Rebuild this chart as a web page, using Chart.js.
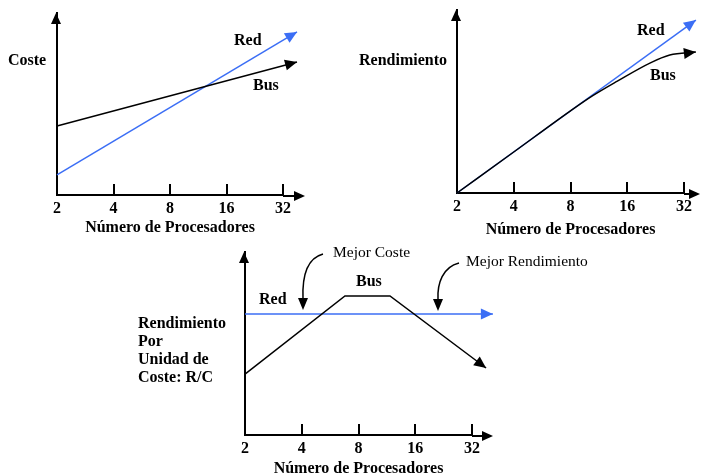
<!DOCTYPE html>
<html>
<head>
<meta charset="utf-8">
<script src="https://cdn.jsdelivr.net/npm/chart.js@4.4.1/dist/chart.umd.min.js"></script>
<style>
  html, body { margin: 0; background: #fff; overflow: hidden; }
  #wrap { position: relative; width: 701px; height: 475px; overflow: hidden; }
  #wrap canvas { position: absolute; left: 0; top: 0; }
</style>
</head>
<body>
<div id="wrap">
  <canvas id="costChart" width="701" height="500"></canvas>
  <canvas id="perfChart" width="701" height="500"></canvas>
  <canvas id="ratioChart" width="701" height="500"></canvas>
</div>
<script>
// processor counts shown on every x axis
const procTicks = [2, 4, 8, 16, 32];

// Coste
const costX = [2, 38];
const costBus = [37.9, 73.1];
const costRed = [11, 89.6];

// Rendimiento
const perfRedX = [2, 37];
const perfRed = [0, 94.5];
const perfBusX = [2, 4, 8, 10.5, 14.1, 21.1, 26.9, 37];
const perfBus = [0, 22.4, 44.9, 53.2, 61, 71, 75.4, 77];

// Rendimiento / Coste
const ratioRedX = [2, 41.3];
const ratioRed = [66.1, 66.1];
const ratioBusX = [2, 6.78, 11.75, 38];
const ratioBus = [33.3, 76, 76, 36.6];

const BLUE = '#3b6ef5';
const SERIF = '"Liberation Serif", "Times New Roman", serif';

const pts = (xs, ys) => xs.map((x, i) => ({ x: x, y: ys[i] }));

function head(ctx, x, y, ang, color, len, hw) {
  ctx.save();
  ctx.translate(x, y);
  ctx.rotate(ang);
  ctx.fillStyle = color;
  ctx.beginPath();
  ctx.moveTo(0, 0);
  ctx.lineTo(-len, -hw);
  ctx.lineTo(-len, hw);
  ctx.closePath();
  ctx.fill();
  ctx.restore();
}

const decorPlugin = {
  id: 'decor',
  afterDraw(chart, args, opts) {
    const ctx = chart.ctx;
    const { left, top, right, bottom } = chart.chartArea;
    const xs = chart.scales.x;
    ctx.save();
    ctx.strokeStyle = '#000';
    ctx.lineWidth = 2;

    // little tick marks standing on the axis
    xs.ticks.forEach((t, i) => {
      if (i === 0) return;
      const px = Math.round(xs.getPixelForValue(t.value));
      ctx.beginPath();
      ctx.moveTo(px, bottom);
      ctx.lineTo(px, bottom - 11);
      ctx.stroke();
    });

    // axis arrows
    const tipX = right + opts.extend;
    ctx.beginPath();
    ctx.moveTo(right, bottom + 1);
    ctx.lineTo(tipX - 6, bottom + 1);
    ctx.stroke();
    head(ctx, tipX, bottom + 1, 0, '#000', 11, 5);
    head(ctx, left - 1, top, -Math.PI / 2, '#000', 11, 5);

    // arrow at the end of each series
    chart.data.datasets.forEach((ds, i) => {
      const el = chart.getDatasetMeta(i).data;
      const b = el[el.length - 1];
      let a = el[el.length - 2];
      if (b.cp1x !== undefined && (Math.abs(b.cp1x - b.x) > 0.5 || Math.abs(b.cp1y - b.y) > 0.5)) {
        a = { x: b.cp1x, y: b.cp1y };
      }
      head(ctx, b.x, b.y, Math.atan2(b.y - a.y, b.x - a.x), ds.borderColor, 12, 5.5);
    });

    // curved pointers
    (opts.pointers || []).forEach(p => {
      ctx.lineWidth = 1.5;
      ctx.beginPath();
      ctx.moveTo(p[0], p[1]);
      ctx.bezierCurveTo(p[2], p[3], p[4], p[5], p[6], p[7] - 11);
      ctx.stroke();
      head(ctx, p[6], p[7], Math.PI / 2, '#000', 12, 5);
    });

    // labels
    ctx.fillStyle = '#000';
    ctx.textBaseline = 'middle';
    ctx.textAlign = 'left';
    (opts.notes || []).forEach(n => {
      ctx.font = (n[3] === false ? '15.5px ' : 'bold 16px ') + SERIF;
      ctx.fillText(n[0], n[1], n[2]);
    });
    ctx.restore();
  }
};

function makeChart(id, area, datasets, decor) {
  return new Chart(document.getElementById(id), {
    type: 'line',
    data: { datasets: datasets },
    plugins: [decorPlugin],
    options: {
      responsive: false,
      animation: false,
      events: [],
      layout: {
        padding: {
          left: area.left,
          top: area.top,
          right: 701 - area.right,
          bottom: 500 - area.bottom - area.xh
        }
      },
      plugins: {
        legend: { display: false },
        tooltip: { enabled: false },
        decor: decor
      },
      elements: { point: { radius: 0 } },
      scales: {
        x: {
          type: 'logarithmic',
          min: 2,
          max: 32,
          grid: { display: false, drawTicks: false },
          border: { display: true, color: '#000', width: 2 },
          afterBuildTicks: s => { s.ticks = procTicks.map(v => ({ value: v })); },
          afterFit: s => { s.height = area.xh; },
          ticks: {
            autoSkip: false,
            maxRotation: 0,
            padding: 4,
            color: '#000',
            font: { family: SERIF, size: 16, weight: 'bold' },
            callback: v => String(v)
          },
          title: {
            display: true,
            text: 'Número de Procesadores',
            color: '#000',
            padding: 0,
            font: { family: SERIF, size: 16, weight: 'bold', lineHeight: 1.125 }
          }
        },
        y: {
          min: 0,
          max: 100,
          grid: { display: false, drawTicks: false },
          border: { display: true, color: '#000', width: 2 },
          ticks: { display: false },
          afterFit: s => { s.width = 0; }
        }
      }
    }
  });
}

function line(xs, ys, color, extra) {
  return Object.assign({
    data: pts(xs, ys),
    borderColor: color,
    borderWidth: 1.5,
    fill: false,
    clip: false,
    tension: 0
  }, extra || {});
}

makeChart('costChart',
  { left: 57, top: 13, right: 283, bottom: 195, xh: 42 },
  [line(costX, costBus, '#000'), line(costX, costRed, BLUE)],
  {
    extend: 22,
    notes: [['Coste', 8, 61], ['Red', 234, 41], ['Bus', 253, 86]]
  });

makeChart('perfChart',
  { left: 457, top: 10, right: 684, bottom: 193, xh: 46 },
  [line(perfBusX, perfBus, '#000', { cubicInterpolationMode: 'monotone' }), line(perfRedX, perfRed, BLUE)],
  {
    extend: 16,
    notes: [['Rendimiento', 359, 61], ['Red', 637, 31], ['Bus', 650, 76]]
  });

makeChart('ratioChart',
  { left: 245, top: 252, right: 472, bottom: 435, xh: 43 },
  [line(ratioBusX, ratioBus, '#000'), line(ratioRedX, ratioRed, BLUE)],
  {
    extend: 21,
    pointers: [
      [323, 254, 308, 258, 302, 274, 303, 310],
      [459, 263, 443, 267, 437, 283, 438, 311]
    ],
    notes: [
      ['Red', 259, 300], ['Bus', 356, 282],
      ['Mejor Coste', 333, 253, false], ['Mejor Rendimiento', 466, 262, false],
      ['Rendimiento', 138, 324], ['Por', 138, 342], ['Unidad de', 138, 360], ['Coste: R/C', 138, 378]
    ]
  });
</script>
</body>
</html>
